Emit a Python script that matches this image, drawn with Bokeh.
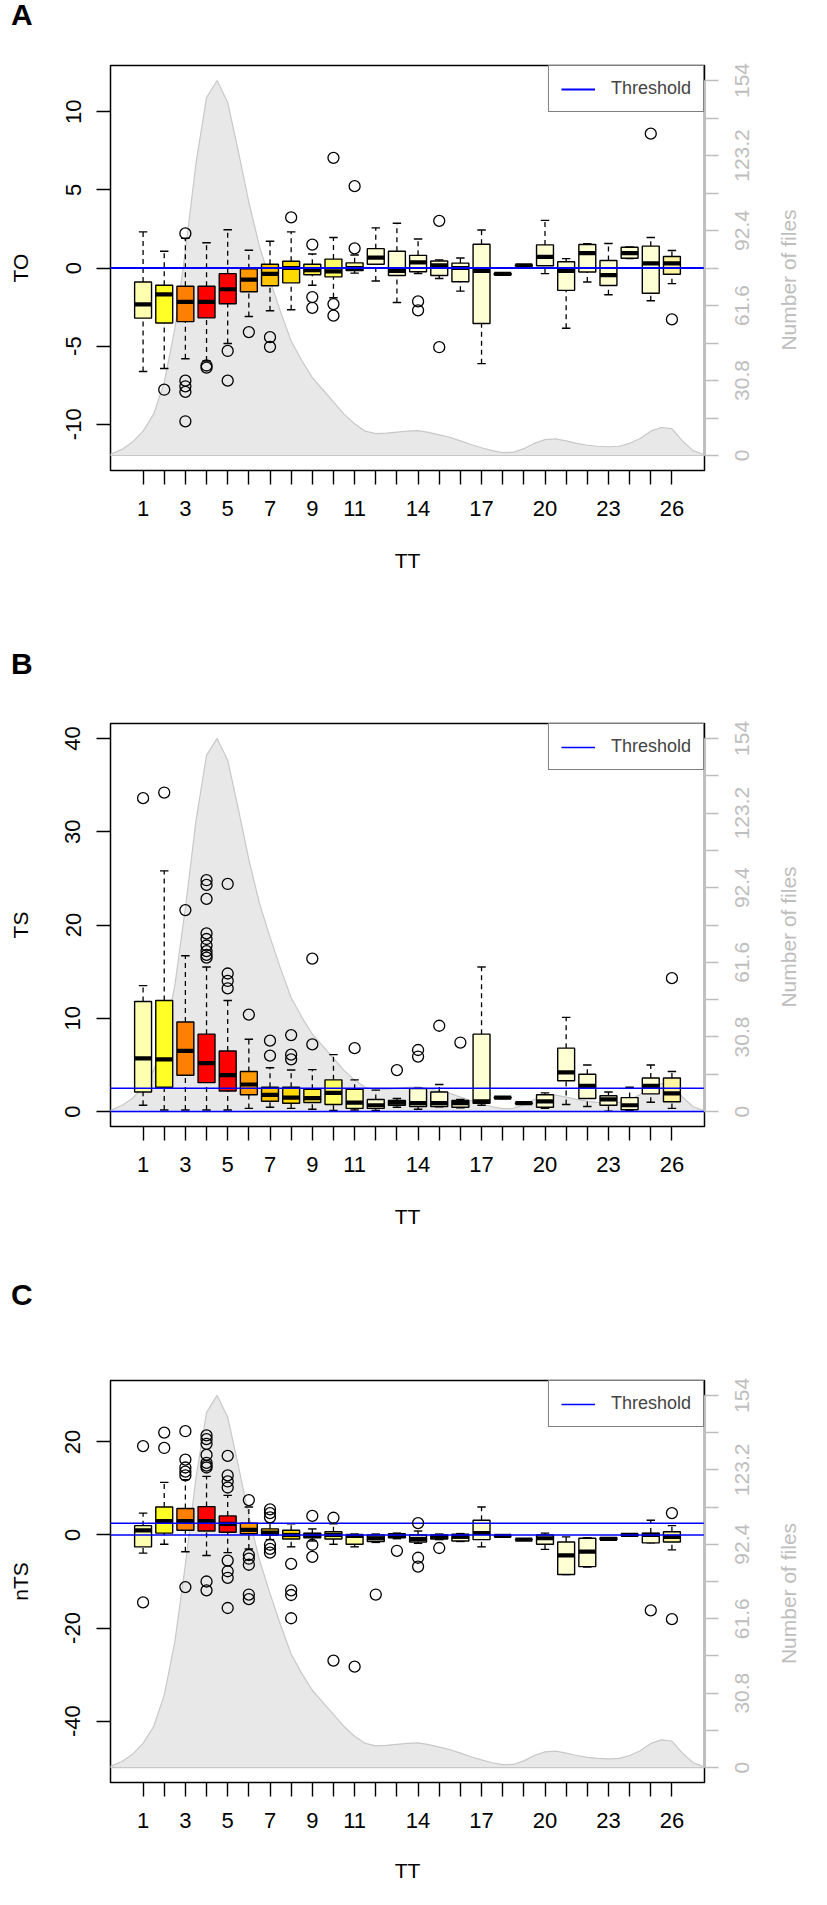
from bokeh.plotting import figure
from bokeh.layouts import column
from bokeh.models import Range1d, LinearAxis, FixedTicker, Legend, LegendItem, Div
from bokeh.embed import file_html
from bokeh.resources import INLINE
import math

# ---------------- data ----------------
tt = list(range(1, 27))
tt_shown = [1, 3, 5, 7, 9, 11, 14, 17, 20, 23, 26]

box_colors = ["#FFFFB0", "#FFFF26", "#FF8000", "#FF0000", "#FF0000", "#FF9900",
              "#FFC400", "#FFDA00", "#FFEE44", "#FFFF66", "#FFFFA0", "#FFFFD4",
              "#FFFFD4", "#FFFFD4", "#FFFFD4", "#FFFFD4", "#FFFFD4", "#FFFFD4",
              "#FFFFD4", "#FFFFD4", "#FFFFD4", "#FFFFD4", "#FFFFD4", "#FFFFD4",
              "#FFFFD4", "#FFF5A0"]

# density of number of files (right axis, 0..154)
dens_x = [-0.54, 0, 0.5, 1, 1.5, 2, 2.5, 3, 3.5, 4, 4.5, 5, 5.5, 6, 6.5, 7, 7.5,
          8, 8.5, 9, 9.5, 10, 10.5, 11, 11.5, 12, 12.5, 13, 13.5, 14, 14.5, 15,
          15.5, 16, 16.5, 17, 17.5, 18, 18.5, 19, 19.5, 20, 20.5, 21, 21.5, 22,
          22.5, 23, 23.5, 24, 24.5, 25, 25.5, 26, 26.5, 27, 27.54]
dens_y = [0.5, 2.5, 5.5, 10, 17, 30, 52, 84, 120, 147, 154, 145, 125, 104, 86,
          72, 59, 47, 39, 32, 27, 22, 17, 13, 10, 9, 9.2, 9.6, 10, 10.2, 9.5,
          8.5, 7.5, 6, 4.5, 3.2, 2, 1.2, 1.3, 2.8, 5, 6.5, 6.8, 6, 5, 4.2, 3.8,
          3.6, 3.8, 5, 7, 10, 11.5, 11, 6, 2, 0.3]

files_ticks = [0, 15.4, 30.8, 46.2, 61.6, 77.0, 92.4, 107.8, 123.2, 138.6, 154]
files_labels = ["0", "", "30.8", "", "61.6", "", "92.4", "", "123.2", "", "154"]

# Panel A: TO
to_low = [-6.62, -6.43, -5.81, -5.95, -4.83, -3.10, -2.74, -2.67, -1.10, -1.9,
          -0.33, -0.83, -2.21, -0.35, -0.67, -1.48, -6.12, -0.45, 0.10, -0.36,
          -3.86, -0.9, -1.71, 0.6, -2.1, -1.0]
to_q1 = [-3.21, -3.52, -3.43, -3.19, -2.29, -1.52, -1.14, -0.95, -0.43, -0.57,
         -0.17, 0.24, -0.48, -0.24, -0.48, -0.88, -3.55, -0.43, 0.12, 0.14,
         -1.43, -0.26, -1.12, 0.62, -1.62, -0.40]
to_med = [-2.33, -1.69, -2.17, -2.17, -1.36, -0.74, -0.38, 0.0, -0.14, -0.21,
          0.0, 0.67, -0.19, 0.36, 0.17, 0.0, -0.19, -0.38, 0.17, 0.71, -0.19,
          0.95, -0.45, 0.95, 0.29, 0.29]
to_q3 = [-0.90, -1.10, -1.17, -1.17, -0.36, -0.05, 0.24, 0.43, 0.24, 0.57, 0.33,
         1.24, 1.07, 0.81, 0.45, 0.31, 1.52, -0.35, 0.19, 1.48, 0.4, 1.5, 0.48,
         1.33, 1.40, 0.74]
to_high = [2.31, 1.07, 1.9, 1.62, 2.45, 1.14, 1.71, 2.31, 0.90, 1.95, 0.83, 2.57,
           2.86, 1.86, 0.52, 0.64, 2.43, -0.33, 0.2, 3.05, 0.6, 1.55, 1.57, 1.35,
           1.95, 1.12]
to_out = [[], [-7.79], [2.21, -7.21, -7.57, -7.93, -9.81], [-6.24, -6.38],
          [-5.31, -7.21], [-4.10], [-4.43, -5.05], [3.24], [1.5, -1.86, -2.55],
          [7.05, -2.31, -3.05], [5.24, 1.26], [], [], [-2.14, -2.71],
          [3.02, -5.07], [], [], [], [], [], [], [], [], [], [8.6], [-3.29]]

# Panel B: TS
ts_low = [0.68, 0.17, 0.17, 0.17, 0.17, 0.34, 0.47, 0.34, 0.25, 0.13, 0.17, 0.13,
          0.47, 0.25, 0.5, 0.4, 0.68, 1.4, 0.85, 0.34, 0.76, 0.55, 0.04, 0.1,
          1.0, 0.34]
ts_q1 = [2.1, 2.6, 3.9, 3.1, 2.2, 1.8, 1.1, 0.9, 0.97, 0.76, 0.34, 0.34, 0.68,
         0.55, 0.55, 0.47, 0.9, 1.45, 0.87, 0.47, 3.3, 1.4, 0.68, 0.2, 1.9, 1.05]
ts_med = [5.7, 5.6, 6.5, 5.2, 3.9, 2.9, 1.8, 1.5, 1.45, 2.0, 0.97, 0.68, 0.97,
          0.9, 0.9, 0.9, 1.1, 1.5, 0.9, 1.1, 4.2, 2.75, 1.3, 0.68, 2.75, 1.95]
ts_q3 = [11.8, 11.9, 9.6, 8.3, 6.5, 4.3, 2.6, 2.6, 2.4, 3.4, 2.4, 1.3, 1.2, 2.46,
         2.1, 1.2, 8.3, 1.55, 0.93, 1.8, 6.8, 4.0, 1.7, 1.5, 3.6, 3.6]
ts_high = [13.5, 25.8, 16.7, 15.5, 11.9, 7.75, 4.7, 4.45, 4.5, 6.1, 3.4, 2.3, 1.4,
           2.5, 2.9, 1.3, 15.5, 1.6, 0.95, 2.0, 10.1, 5.0, 2.1, 2.6, 5.0, 4.3]
ts_out = [[33.6], [34.2], [21.6],
          [24.8, 24.3, 22.8, 19.1, 18.5, 17.8, 17.2, 16.8, 16.5],
          [24.4, 14.8, 14.0, 13.2], [10.4], [7.6, 6.0], [8.2, 6.1, 5.6],
          [16.4, 7.2], [], [6.8], [], [4.45], [6.6, 5.9], [9.2], [7.4], [], [],
          [], [], [], [], [], [], [], [14.3]]

# Panel C: nTS
nts_low = [-3.9, -2.0, -3.6, -4.4, -3.8, -3.0, -1.0, -2.55, -1.3, -2.0, -2.55,
           -1.6, -0.8, -1.8, -1.0, -1.4, -2.55, -0.3, -1.1, -3.1, -8.5, -6.9,
           -1.0, -0.2, -1.7, -3.2]
nts_q1 = [-2.55, 0.4, 1.0, 0.85, 0.6, 0.25, 0.0, -0.85, -0.6, -0.85, -2.0, -1.4,
          -0.6, -1.5, -0.85, -1.3, -1.0, -0.25, -1.05, -2.0, -8.5, -6.8, -1.0,
          -0.2, -1.7, -1.5]
nts_med = [1.0, 3.0, 3.0, 3.0, 2.4, 1.1, 0.5, 0.0, 0.0, 0.0, -0.2, -0.7, -0.2,
           -0.85, -0.4, -0.4, 0.4, -0.2, -1.0, -0.7, -4.4, -3.6, -0.85, 0.0, 0.0,
           -0.4]
nts_q3 = [2.0, 6.0, 5.7, 6.1, 4.1, 2.55, 1.3, 1.0, 0.4, 0.7, 0.0, 0.0, 0.25, 0.0,
          0.0, 0.17, 3.15, -0.15, -0.95, 0.0, -1.5, -0.7, -0.6, 0.2, 0.4, 0.7]
nts_high = [4.7, 11.3, 11.9, 12.6, 8.5, 6.0, 2.55, 2.4, 1.3, 2.4, 0.2, 0.2, 0.4,
            0.85, 0.2, 0.3, 6.0, -0.1, -0.9, 0.4, -0.4, -0.6, -0.6, 0.2, 3.15, 2.0]
nts_out = [[19.1, -14.5], [22.0, 18.7], [22.3, 16.2, 14.5, 13.6, 12.8, -11.2],
           [21.4, 20.6, 19.6, 17.2, 15.5, 14.9, 14.5, -10.0, -11.9],
           [17.0, 12.8, 11.5, 10.2, -5.5, -7.8, -9.2, -15.7],
           [7.5, -4.3, -5.1, -6.4, -12.8, -13.8],
           [5.5, 4.7, 3.8, -2.1, -3.0, -3.8], [-6.2, -11.9, -12.9, -17.9],
           [4.1, -2.1, -4.7], [3.7, -27.0], [-28.3], [-12.8], [-3.4],
           [2.55, -4.9, -6.8], [-2.8], [], [], [], [], [], [], [], [], [],
           [-16.2], [4.7, -18.1]]

threshold_ts = 2.5

FONT = "Liberation Sans"
GRAY = "#BEBEBE"
XLIM = (-0.54, 27.54)
FILES_LIM = (-6.16, 160.16)
FIG_W = 819
BORDER_L = 110
BORDER_R = 115

# advance widths (em) of Liberation Sans, used to centre rotated right-side texts
EM = {"0": .556, "1": .556, "2": .556, "3": .556, "4": .556, "5": .556,
      "6": .556, "7": .556, "8": .556, "9": .556, ".": .278, " ": .278,
      "N": .722, "u": .556, "m": .833, "b": .556, "e": .556, "r": .333,
      "o": .556, "f": .278, "i": .222, "l": .222, "s": .5}


def text_px(s, size):
    return sum(EM[c] for c in s) * size


def right_axis(ticks, labels, standoff, tick_out, line):
    ax = LinearAxis(y_range_name="files", ticker=FixedTicker(ticks=ticks))
    ax.major_label_overrides = dict(zip(ticks, labels))
    ax.axis_line_color = GRAY if line else None
    ax.axis_line_width = 1.4
    ax.major_tick_in = 0
    ax.major_tick_out = tick_out
    ax.major_tick_line_color = GRAY if tick_out else None
    ax.major_tick_line_width = 1.4
    ax.minor_tick_line_color = None
    ax.major_label_text_font = FONT
    ax.major_label_text_color = GRAY
    ax.major_label_standoff = standoff
    return ax


def panel(ylab, ylim, yticks, lines, low, q1, med, q3, high, outs,
          top, frame_h, bottom):
    p = figure(width=FIG_W, height=top + frame_h + bottom,
               x_range=Range1d(*XLIM), y_range=Range1d(*ylim),
               output_backend="svg", toolbar_location=None,
               min_border_left=BORDER_L, min_border_right=BORDER_R,
               min_border_top=top, min_border_bottom=bottom)
    p.extra_y_ranges = {"files": Range1d(*FILES_LIM)}
    p.xgrid.visible = False
    p.ygrid.visible = False
    p.outline_line_color = "black"
    p.outline_line_width = 1.5

    # density of files
    p.patch(dens_x + [dens_x[-1], dens_x[0]], dens_y + [0, 0],
            y_range_name="files", fill_color="#E8E8E8",
            line_color="#C8C8C8", line_width=1.2)

    # boxplots
    xl = [t - 0.4 for t in tt]
    xr = [t + 0.4 for t in tt]
    cl = [t - 0.2 for t in tt]
    cr = [t + 0.2 for t in tt]
    p.segment(tt, q3, tt, high, line_color="black", line_width=1.3, line_dash="5 4")
    p.segment(tt, low, tt, q1, line_color="black", line_width=1.3, line_dash="5 4")
    p.segment(cl, high, cr, high, line_color="black", line_width=1.4)
    p.segment(cl, low, cr, low, line_color="black", line_width=1.4)
    p.quad(left=xl, right=xr, bottom=q1, top=q3, fill_color=box_colors,
           line_color="black", line_width=1.4)
    p.segment(xl, med, xr, med, line_color="black", line_width=4.2)

    # threshold lines
    thr = None
    for v in lines:
        thr = p.line([XLIM[0], XLIM[1]], [v, v], line_color="blue",
                     line_width=1.5 if len(lines) > 1 else 2.2)

    ox = [t for t, o in zip(tt, outs) for _ in o]
    oy = [v for o in outs for v in o]
    p.scatter(ox, oy, marker="circle", size=11, fill_color=None,
              line_color="black", line_width=1.3)

    # left / bottom axes
    p.xaxis.ticker = FixedTicker(ticks=tt)
    p.xaxis.major_label_overrides = {t: (str(t) if t in tt_shown else "") for t in tt}
    p.yaxis.ticker = FixedTicker(ticks=yticks)
    p.yaxis.major_label_overrides = {v: str(v) for v in yticks}
    for ax in (p.xaxis[0], p.yaxis[0]):
        ax.axis_line_color = None
        ax.major_tick_in = 0
        ax.major_tick_out = 14
        ax.major_tick_line_color = "black"
        ax.major_tick_line_width = 1.4
        ax.minor_tick_line_color = None
        ax.major_label_text_font = FONT
        ax.major_label_text_font_size = "22px"
        ax.major_label_text_color = "black"
        ax.axis_label_text_font = FONT
        ax.axis_label_text_font_size = "21px"
        ax.axis_label_text_font_style = "normal"
        ax.axis_label_text_color = "black"
    p.xaxis.axis_label = "TT"
    p.xaxis.major_label_standoff = 16
    p.xaxis.axis_label_standoff = 28 if bottom < 150 else 30
    p.yaxis.axis_label = ylab
    p.yaxis.major_label_orientation = "parallel"
    p.yaxis.major_label_standoff = 16
    p.yaxis.axis_label_standoff = 31

    # right axis: tick marks, then numbers, then its title (all reading upwards)
    fpp = (FILES_LIM[1] - FILES_LIM[0]) / frame_h
    r_ticks = right_axis(files_ticks, [""] * len(files_ticks), 0, 14, True)
    r_ticks.bounds = (0, 154)
    r_ticks.major_label_text_font_size = "1px"
    p.add_layout(r_ticks, "right")

    shown = [(v, s) for v, s in zip(files_ticks, files_labels) if s]
    num_pos = [v - text_px(s, 21) / 2 * fpp for v, s in shown]
    r_nums = right_axis(num_pos, [s for _, s in shown], 24, 0, False)
    r_nums.major_label_text_font_size = "21px"
    r_nums.major_label_orientation = math.pi / 2
    p.add_layout(r_nums, "right")

    name = "Number of files"
    name_pos = (FILES_LIM[0] + FILES_LIM[1]) / 2 - (12 + text_px(name, 21) / 2) * fpp
    r_name = right_axis([name_pos], [name], 29, 0, False)
    r_name.major_label_text_font_size = "21px"
    r_name.major_label_orientation = math.pi / 2
    p.add_layout(r_name, "right")

    legend = Legend(items=[LegendItem(label="Threshold", renderers=[thr])],
                    location="top_right", margin=0, padding=12, spacing=0,
                    glyph_width=34, glyph_height=20, label_height=20,
                    label_standoff=16, border_line_color="black",
                    border_line_width=1.4, background_fill_alpha=1.0,
                    label_text_font=FONT, label_text_font_size="18px")
    p.add_layout(legend)
    return p


def letter(txt):
    html = ('<div style="margin:0;padding:0 0 0 11px;font-family:\'Liberation Sans\';'
            'font-weight:bold;font-size:30px;line-height:30px;color:black">%s</div>' % txt)
    return Div(text=html, width=811, height=36, margin=0)


pa = panel("TO", (-12.96, 12.96), [-10, -5, 0, 5, 10], [0],
           to_low, to_q1, to_med, to_q3, to_high, to_out, 29, 405, 179)
pb = panel("TS", (-1.6, 41.6), [0, 10, 20, 30, 40], [0, threshold_ts],
           ts_low, ts_q1, ts_med, ts_q3, ts_high, ts_out, 38, 403, 154)
pc = panel("nTS", (-53.2, 33.2), [-40, -20, 0, 20], [0, threshold_ts],
           nts_low, nts_q1, nts_med, nts_q3, nts_high, nts_out, 64, 402, 107)

layout = column(letter("A"), pa, letter("B"), pb, letter("C"), pc, spacing=0)
open("out.html", "w").write(file_html(layout, INLINE))
